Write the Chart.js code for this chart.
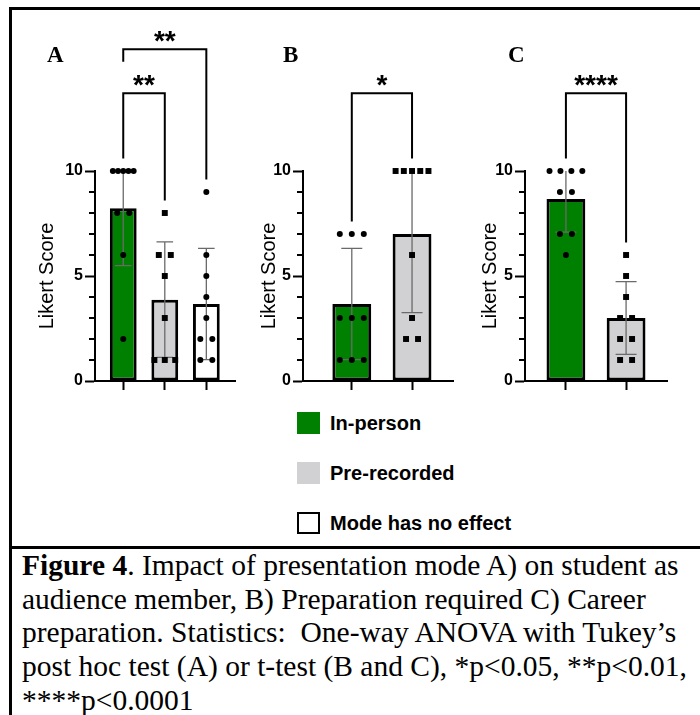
<!DOCTYPE html>
<html>
<head>
<meta charset="utf-8">
<script src="https://cdn.jsdelivr.net/npm/chart.js@4.4.0/dist/chart.umd.min.js"></script>
<style>
  body { margin: 0; width: 700px; height: 715px; position: relative; overflow: hidden; background: #fff; }
  .frame { position: absolute; left: 9px; top: 7px; width: 720px; height: 720px; border-left: 3px solid #000; border-top: 3px solid #000; }
  .divider { position: absolute; left: 9px; top: 546px; width: 720px; height: 3px; background: #000; }
  canvas { position: absolute; top: 0; }
  .letter { position: absolute; top: 43px; font: bold 23px/23px "Liberation Serif", serif; }
  .legend { position: absolute; left: 297px; font: bold 20px/22px "Liberation Sans", Arial, sans-serif; }
  .legend div { height: 22px; margin-bottom: 28px; white-space: nowrap; }
  .legend span { display: inline-block; width: 23px; height: 22px; vertical-align: top; margin-right: 10px; box-sizing: border-box; }
  .caption { position: absolute; left: 22px; top: 549px; font: 29.5px/33.7px "Liberation Serif", serif; white-space: pre; }
</style>
</head>
<body>
<div class="frame"></div>
<div class="divider"></div>

<canvas id="chartA" width="212" height="400" style="left:33px"></canvas>
<canvas id="chartB" width="208" height="400" style="left:255px"></canvas>
<canvas id="chartC" width="201" height="400" style="left:476px"></canvas>

<div class="letter" style="left:47px">A</div>
<div class="letter" style="left:283px">B</div>
<div class="letter" style="left:508px">C</div>

<div class="legend" id="legend" style="top:412px"></div>

<div class="caption"><b>Figure 4</b>. Impact of presentation mode A) on student as
audience member, B) Preparation required C) Career
preparation. Statistics:  One-way ANOVA with Tukey’s
post hoc test (A) or t-test (B and C), *p&lt;0.05, **p&lt;0.01,
****p&lt;0.0001</div>

<script>
var groupNames = ['In-person', 'Pre-recorded', 'Mode has no effect'];
var groupColors = ['#008000', '#d1d1d3', '#ffffff'];
var groupMarkers = ['circle', 'rect', 'circle'];

// one Likert score per respondent
var scoresA = [
  [10, 10, 10, 10, 10, 8, 8, 6, 2],
  [8, 6, 6, 5, 3, 1, 1, 1],
  [9, 6, 5, 4, 3, 2, 2, 1, 1]
];
var scoresB = [
  [7, 7, 7, 3, 3, 3, 1, 1, 1],
  [10, 10, 10, 10, 10, 6, 3, 2, 2]
];
var scoresC = [
  [10, 10, 10, 10, 9, 9, 7, 7, 6],
  [6, 5, 4, 3, 3, 2, 2, 1, 1]
];

// significance brackets: [group from, group to, label]
var sigA = [[0, 1, '**'], [0, 2, '**']];
var sigB = [[0, 1, '*']];
var sigC = [[0, 1, '****']];

var yTickLabels = [0, 5, 10];
var yMax = 10;

var FONT = '"Liberation Sans", Arial, sans-serif';

function mean(arr) {
  return arr.reduce(function (a, b) { return a + b; }, 0) / arr.length;
}

function stdev(arr) {
  var m = mean(arr);
  var ss = arr.reduce(function (a, b) { return a + (b - m) * (b - m); }, 0);
  return Math.sqrt(ss / (arr.length - 1));
}

/* spread points sharing the same value sideways, like a Prism scatter */
function swarmPlugin() {
  return {
    id: 'swarm',
    afterDatasetsUpdate: function (chart) {
      var xs = chart.scales.x;
      var barW = chart.getDatasetMeta(0).data[0].width;
      var meta = chart.getDatasetMeta(1);
      var raw = chart.data.datasets[1].data;
      var rows = {};
      meta.data.forEach(function (pt, i) {
        var key = raw[i].x + ':' + raw[i].y;
        (rows[key] = rows[key] || []).push(pt);
      });
      Object.keys(rows).forEach(function (k) {
        var row = rows[k];
        var cnt = row.length;
        var gap = cnt > 1 ? Math.min(12, (barW - 6) / (cnt - 1)) : 0;
        var g = +k.split(':')[0];
        row.forEach(function (pt, j) {
          pt.x = xs.getPixelForValue(g) + (j - (cnt - 1) / 2) * gap;
        });
      });
    }
  };
}

/* mean +/- SD whiskers, clipped at the top of the axis */
function errorBarPlugin(scores) {
  return {
    id: 'errorBars',
    afterDatasetDraw: function (chart, args) {
      if (args.index !== 0) return;
      var ctx = chart.ctx, xs = chart.scales.x, ys = chart.scales.y;
      var barW = chart.getDatasetMeta(0).data[0].width;
      var cap = Math.min(21, barW * 0.62);
      ctx.save();
      ctx.strokeStyle = '#6a6a6a';
      ctx.lineWidth = 1.3;
      scores.forEach(function (s, g) {
        var m = mean(s), sd = stdev(s);
        var hi = m + sd, lo = m - sd;
        var x = xs.getPixelForValue(g);
        var yHi = ys.getPixelForValue(Math.min(hi, yMax));
        var yLo = ys.getPixelForValue(Math.max(lo, 0));
        ctx.beginPath();
        ctx.moveTo(x, yHi);
        ctx.lineTo(x, yLo);
        if (hi <= yMax) { ctx.moveTo(x - cap / 2, yHi); ctx.lineTo(x + cap / 2, yHi); }
        ctx.moveTo(x - cap / 2, yLo);
        ctx.lineTo(x + cap / 2, yLo);
        ctx.stroke();
      });
      ctx.restore();
    }
  };
}

/* short unlabelled ticks between the major ones */
function minorTickPlugin() {
  return {
    id: 'minorTicks',
    afterDraw: function (chart) {
      var ctx = chart.ctx, ys = chart.scales.y, left = chart.chartArea.left;
      ctx.save();
      ctx.strokeStyle = '#000';
      ctx.lineWidth = 2;
      for (var v = 0; v <= yMax; v++) {
        if (yTickLabels.indexOf(v) >= 0) continue;
        var y = ys.getPixelForValue(v);
        ctx.beginPath();
        ctx.moveTo(left - 6, y);
        ctx.lineTo(left, y);
        ctx.stroke();
      }
      ctx.restore();
    }
  };
}

function bracketPlugin(scores, sig) {
  return {
    id: 'brackets',
    afterDraw: function (chart) {
      var ctx = chart.ctx, xs = chart.scales.x, ys = chart.scales.y;
      var used = {};
      ctx.save();
      ctx.strokeStyle = '#000';
      ctx.fillStyle = '#000';
      ctx.lineWidth = 2;
      ctx.font = 'bold 28px ' + FONT;
      ctx.textAlign = 'center';
      sig.forEach(function (s, k) {
        var top = 13.7 + 2.1 * k;
        var legEnd = function (g) {
          return used[g] ? top - 0.6 : Math.max.apply(null, scores[g]) + 0.6;
        };
        var x1 = xs.getPixelForValue(s[0]), x2 = xs.getPixelForValue(s[1]);
        var yTop = ys.getPixelForValue(top);
        ctx.beginPath();
        ctx.moveTo(x1, ys.getPixelForValue(legEnd(s[0])));
        ctx.lineTo(x1, yTop);
        ctx.lineTo(x2, yTop);
        ctx.lineTo(x2, ys.getPixelForValue(legEnd(s[1])));
        ctx.stroke();
        var tm = ctx.measureText(s[2]);
        ctx.fillText(s[2], (x1 + x2) / 2, yTop - 7 - tm.actualBoundingBoxDescent);
        used[s[0]] = true;
        used[s[1]] = true;
      });
      ctx.restore();
    }
  };
}

function createPanel(chartId, scores, sig, yWidth, xMin, xMax) {
  var ctx = document.getElementById(chartId).getContext('2d');
  var bars = scores.map(function (s, i) { return { x: i, y: mean(s) }; });
  var dots = [];
  scores.forEach(function (s, g) {
    s.forEach(function (v) { dots.push({ x: g, y: v }); });
  });

  return new Chart(ctx, {
    type: 'bar',
    data: {
      datasets: [
        {
          type: 'bar',
          data: bars,
          backgroundColor: groupColors.slice(0, scores.length),
          borderColor: '#000',
          borderWidth: 3,
          borderSkipped: false,
          categoryPercentage: 1,
          barPercentage: 0.645,
          order: 2
        },
        {
          type: 'scatter',
          data: dots,
          pointStyle: function (c) { return c.raw ? groupMarkers[c.raw.x] : 'circle'; },
          pointRadius: function (c) { return c.raw && groupMarkers[c.raw.x] === 'rect' ? 4.2 : 3; },
          backgroundColor: '#000',
          borderWidth: 0,
          clip: false,
          order: 1
        }
      ]
    },
    options: {
      responsive: false,
      animation: false,
      events: [],
      layout: { padding: { top: 171, bottom: 7, left: 0, right: 10 } },
      plugins: { legend: { display: false }, tooltip: { enabled: false } },
      scales: {
        x: {
          type: 'linear',
          offset: false,
          min: xMin,
          max: xMax,
          afterFit: function (s) { s.height = 12; },
          afterBuildTicks: function (s) {
            s.ticks = scores.map(function (_, i) { return { value: i }; });
          },
          ticks: { display: false },
          grid: { offset: false, drawOnChartArea: false, tickLength: 9, tickWidth: 2, tickColor: '#000' },
          border: { color: '#000', width: 2 }
        },
        y: {
          min: 0,
          max: yMax,
          afterFit: function (s) { s.width = yWidth; },
          afterBuildTicks: function (s) {
            s.ticks = yTickLabels.map(function (v) { return { value: v }; });
          },
          ticks: { color: '#000', padding: 2, font: { family: FONT, size: 16, weight: 'bold' } },
          grid: { drawOnChartArea: false, tickLength: 10, tickWidth: 2, tickColor: '#000' },
          border: { color: '#000', width: 2 },
          title: {
            display: true,
            text: 'Likert Score',
            color: '#000',
            font: { family: FONT, size: 20 },
            padding: { top: 2, bottom: 0 }
          }
        }
      }
    },
    plugins: [swarmPlugin(), errorBarPlugin(scores), minorTickPlugin(), bracketPlugin(scores, sig)]
  });
}

/* shared legend */
var legend = document.getElementById('legend');
groupNames.forEach(function (name, i) {
  var row = document.createElement('div');
  var sw = document.createElement('span');
  sw.style.background = groupColors[i];
  if (groupColors[i] === '#ffffff') sw.style.border = '2px solid #000';
  row.appendChild(sw);
  row.appendChild(document.createTextNode(name));
  legend.appendChild(row);
});

createPanel('chartA', scoresA, sigA, 62, -0.68, 2.69);
createPanel('chartB', scoresB, sigB, 48, -0.81, 1.68);
createPanel('chartC', scoresC, sigC, 49, -0.68, 1.68);
</script>
</body>
</html>
